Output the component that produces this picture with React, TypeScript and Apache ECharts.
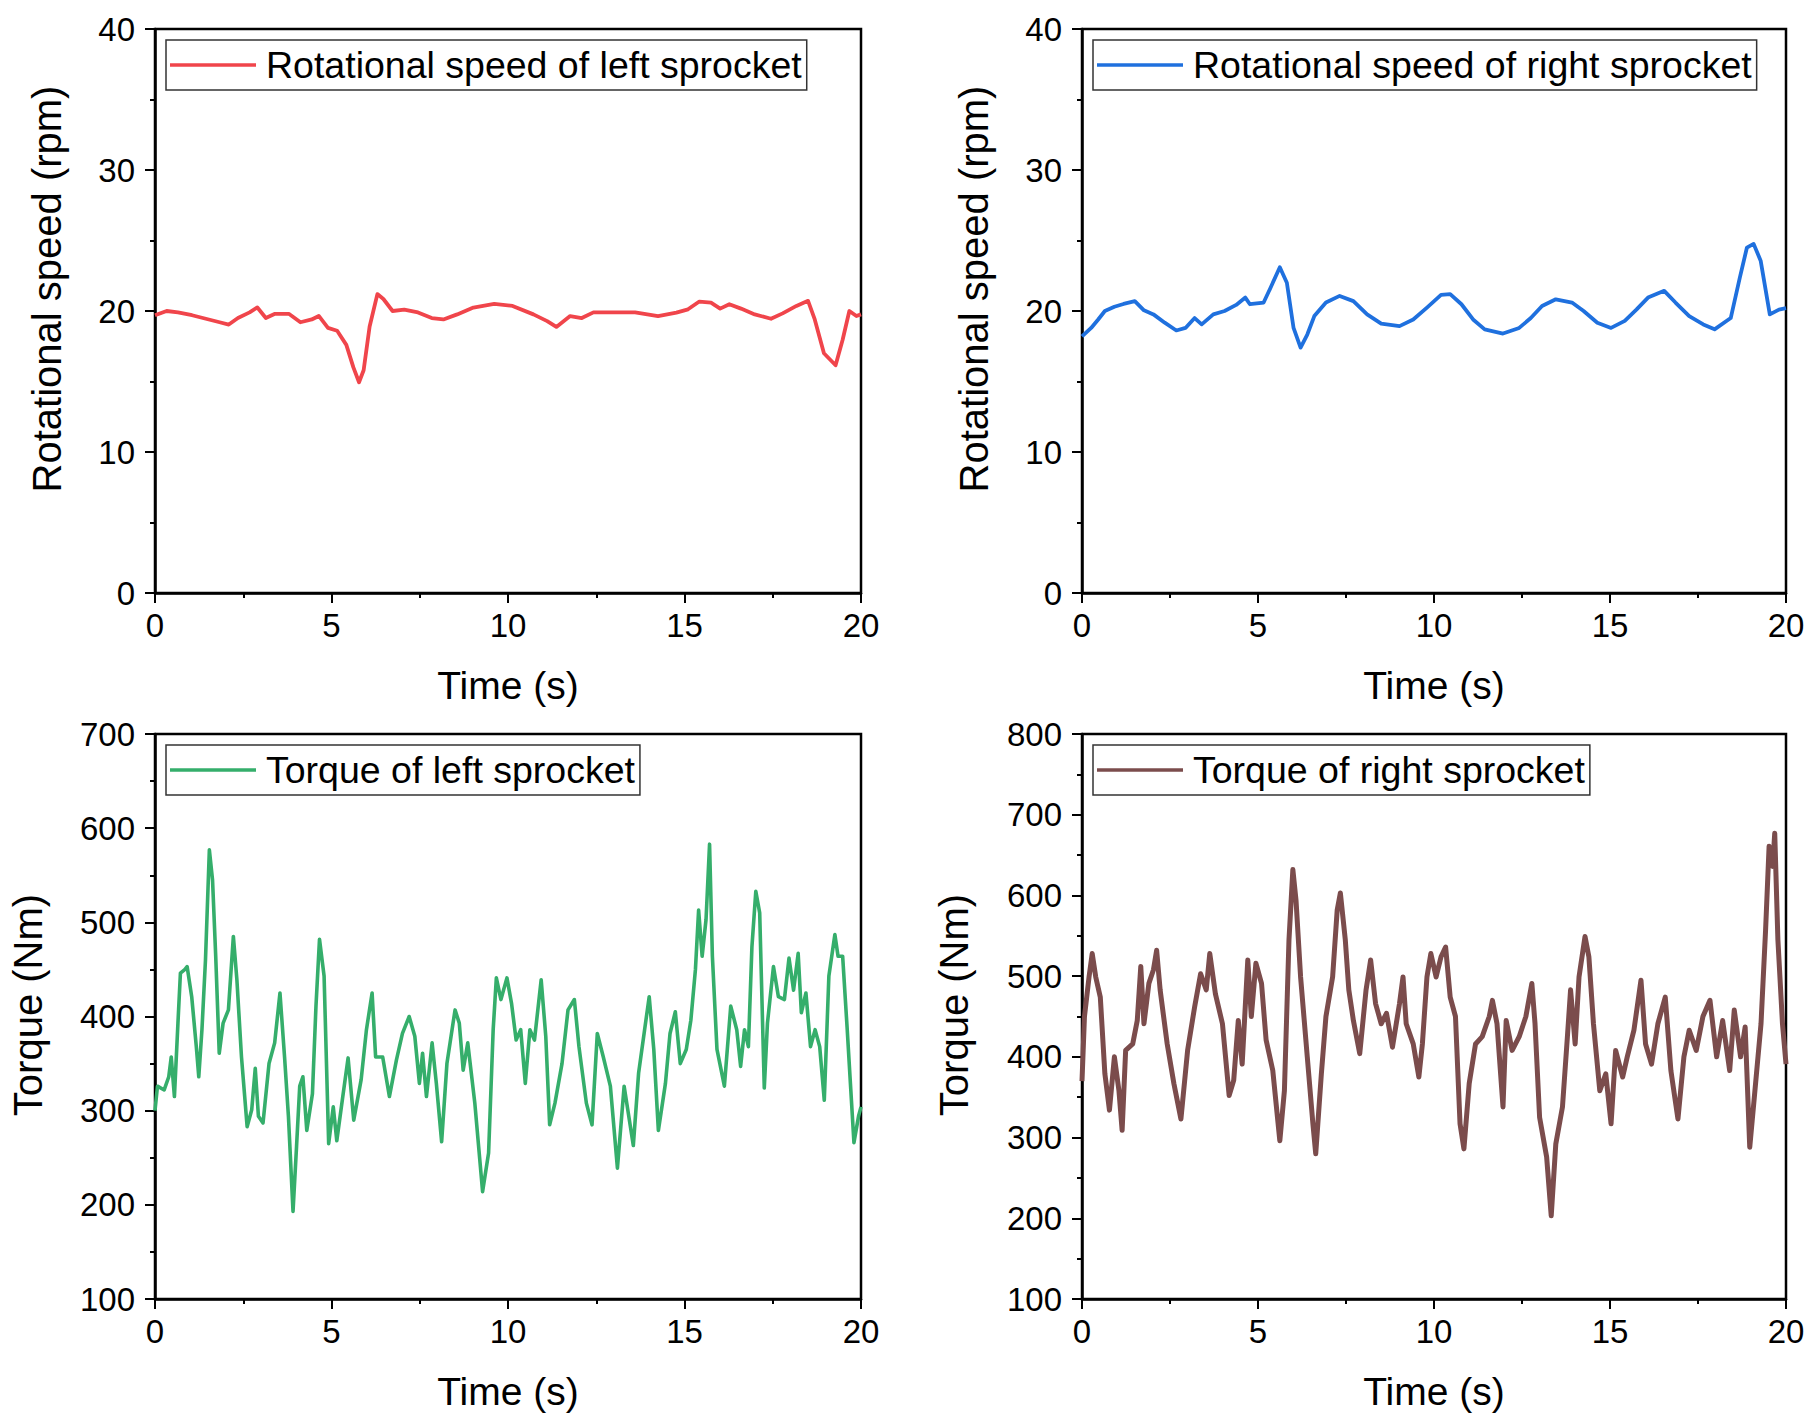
import React, { useEffect, useRef } from "react";
import * as echarts from "echarts";

const FONT = "Arial, 'Liberation Sans', Helvetica, sans-serif";

const xTicks = [0, 5, 10, 15, 20];

const leftSpeed: number[][] = [
  [0, 19.7], [0.33, 20.0], [0.65, 19.9], [1.05, 19.7], [1.44, 19.45], [1.83, 19.2], [2.09, 19.04],
  [2.35, 19.5], [2.68, 19.9], [2.9, 20.25], [3.14, 19.5], [3.4, 19.8], [3.79, 19.8], [4.12, 19.2],
  [4.44, 19.4], [4.64, 19.65], [4.9, 18.8], [5.16, 18.6], [5.42, 17.6], [5.62, 16.0], [5.78, 14.95],
  [5.91, 15.8], [6.08, 18.9], [6.3, 21.2], [6.47, 20.85], [6.73, 20.0], [7.06, 20.1], [7.45, 19.9],
  [7.84, 19.5], [8.17, 19.4], [8.56, 19.76], [9.02, 20.24], [9.61, 20.5], [10.13, 20.36], [10.72, 19.76],
  [11.11, 19.28], [11.37, 18.87], [11.76, 19.64], [12.09, 19.5], [12.42, 19.9], [12.94, 19.9], [13.6, 19.9],
  [14.25, 19.64], [14.77, 19.88], [15.1, 20.12], [15.42, 20.67], [15.75, 20.6], [16.01, 20.17], [16.27, 20.48],
  [16.6, 20.17], [16.99, 19.76], [17.45, 19.45], [17.78, 19.83], [18.17, 20.36], [18.5, 20.72], [18.69, 19.4],
  [18.95, 17.0], [19.28, 16.15], [19.48, 17.96], [19.67, 20.0], [19.87, 19.64], [20, 19.76],
];

const rightSpeed: number[][] = [
  [0, 18.2], [0.26, 18.8], [0.46, 19.4], [0.65, 20.0], [0.92, 20.3], [1.18, 20.5], [1.5, 20.7],
  [1.76, 20.05], [2.03, 19.76], [2.35, 19.17], [2.68, 18.62], [2.94, 18.8], [3.2, 19.5], [3.4, 19.05],
  [3.73, 19.76], [4.05, 20.0], [4.38, 20.43], [4.64, 20.95], [4.77, 20.48], [5.16, 20.6], [5.36, 21.67],
  [5.62, 23.1], [5.82, 22.0], [6.01, 18.8], [6.21, 17.4], [6.4, 18.33], [6.6, 19.64], [6.93, 20.6],
  [7.32, 21.07], [7.71, 20.7], [8.1, 19.76], [8.5, 19.1], [9.02, 18.93], [9.41, 19.4], [9.8, 20.24],
  [10.2, 21.14], [10.46, 21.2], [10.78, 20.48], [11.11, 19.4], [11.44, 18.7], [11.96, 18.4], [12.42, 18.8],
  [12.75, 19.5], [13.07, 20.36], [13.46, 20.83], [13.92, 20.6], [14.25, 20.0], [14.64, 19.17], [15.03, 18.8],
  [15.42, 19.3], [15.75, 20.1], [16.08, 20.95], [16.54, 21.43], [16.86, 20.6], [17.25, 19.64], [17.65, 19.05],
  [17.97, 18.7], [18.43, 19.5], [18.69, 22.38], [18.89, 24.5], [19.08, 24.76], [19.28, 23.57], [19.54, 19.76],
  [19.8, 20.1], [20, 20.2],
];

const leftTorque: number[][] = [
  [0, 300], [0.07, 326], [0.26, 322], [0.39, 336], [0.46, 357], [0.55, 315], [0.65, 393], [0.72, 446],
  [0.85, 450], [0.91, 453], [1.04, 421], [1.17, 368], [1.24, 336], [1.33, 386], [1.43, 460], [1.54, 577],
  [1.63, 545], [1.72, 464], [1.82, 361], [1.93, 393], [2.08, 407], [2.22, 485], [2.32, 439], [2.45, 357],
  [2.61, 283], [2.74, 301], [2.84, 345], [2.93, 294], [3.06, 287], [3.23, 350], [3.39, 372], [3.54, 425],
  [3.67, 357], [3.78, 294], [3.91, 193], [4.01, 262], [4.1, 326], [4.19, 336], [4.3, 279], [4.46, 318],
  [4.56, 411], [4.66, 482], [4.79, 443], [4.92, 265], [5.05, 304], [5.15, 268], [5.32, 315], [5.47, 356],
  [5.63, 290], [5.84, 333], [5.99, 386], [6.15, 425], [6.25, 357], [6.45, 357], [6.64, 315], [6.84, 354],
  [7.01, 382], [7.2, 400], [7.36, 379], [7.49, 329], [7.58, 361], [7.69, 315], [7.85, 372], [7.97, 329],
  [8.12, 267], [8.27, 350], [8.5, 407], [8.62, 393], [8.73, 343], [8.86, 372], [9.06, 308], [9.28, 214],
  [9.45, 255], [9.58, 386], [9.67, 441], [9.8, 418], [9.97, 441], [10.1, 414], [10.23, 375], [10.36, 386],
  [10.49, 329], [10.62, 386], [10.75, 375], [10.94, 439], [11.07, 379], [11.18, 285], [11.33, 308],
  [11.53, 350], [11.7, 407], [11.88, 418], [12.01, 368], [12.22, 308], [12.38, 285], [12.53, 382],
  [12.7, 357], [12.9, 326], [13.1, 239], [13.29, 326], [13.55, 263], [13.7, 340], [13.87, 386], [14.0, 421],
  [14.13, 365], [14.26, 279], [14.46, 329], [14.59, 382], [14.74, 405], [14.88, 350], [15.05, 365],
  [15.18, 396], [15.31, 450], [15.4, 513], [15.5, 464], [15.61, 503], [15.71, 583], [15.79, 464],
  [15.92, 365], [16.13, 326], [16.31, 411], [16.48, 386], [16.59, 347], [16.7, 386], [16.81, 368],
  [16.91, 474], [17.02, 533], [17.13, 510], [17.26, 324], [17.35, 393], [17.52, 453], [17.66, 421],
  [17.83, 418], [17.96, 462], [18.09, 428], [18.22, 467], [18.31, 404], [18.44, 425], [18.57, 368],
  [18.7, 386], [18.83, 368], [18.96, 311], [19.09, 443], [19.26, 487], [19.35, 464], [19.48, 464],
  [19.61, 386], [19.7, 329], [19.8, 266], [19.93, 294], [20, 304],
];

const rightTorque: number[][] = [
  [0, 370], [0.07, 450], [0.2, 499], [0.29, 528], [0.39, 499], [0.52, 474], [0.65, 379], [0.78, 334],
  [0.92, 400], [1.05, 358], [1.14, 309], [1.24, 408], [1.44, 416], [1.57, 445], [1.67, 512], [1.76, 441],
  [1.9, 491], [2.03, 508], [2.12, 532], [2.22, 483], [2.42, 416], [2.61, 367], [2.81, 323], [3.0, 408],
  [3.2, 462], [3.37, 503], [3.53, 483], [3.63, 528], [3.79, 478], [3.99, 441], [4.18, 352], [4.31, 371],
  [4.44, 445], [4.55, 391], [4.71, 520], [4.81, 450], [4.94, 516], [5.1, 491], [5.23, 421], [5.42, 383],
  [5.62, 296], [5.75, 358], [5.88, 545], [5.99, 632], [6.08, 594], [6.21, 499], [6.4, 400], [6.56, 317],
  [6.64, 280], [6.8, 379], [6.93, 450], [7.12, 499], [7.25, 582], [7.34, 603], [7.48, 545], [7.58, 483],
  [7.71, 445], [7.89, 404], [8.07, 483], [8.2, 520], [8.34, 466], [8.5, 441], [8.65, 454], [8.82, 412],
  [9.02, 466], [9.12, 499], [9.21, 441], [9.41, 416], [9.57, 375], [9.67, 416], [9.8, 499], [9.91, 528],
  [10.06, 499], [10.2, 524], [10.33, 536], [10.46, 474], [10.61, 450], [10.74, 317], [10.85, 286],
  [11.0, 367], [11.18, 416], [11.37, 425], [11.57, 450], [11.66, 470], [11.79, 441], [11.96, 338],
  [12.05, 445], [12.22, 408], [12.42, 425], [12.61, 450], [12.78, 491], [12.87, 441], [13.0, 325],
  [13.2, 276], [13.33, 203], [13.46, 292], [13.65, 338], [13.79, 425], [13.88, 483], [14.01, 416],
  [14.12, 499], [14.29, 549], [14.4, 524], [14.53, 441], [14.71, 358], [14.88, 379], [15.03, 317],
  [15.16, 408], [15.36, 375], [15.49, 400], [15.68, 433], [15.88, 495], [16.01, 416], [16.18, 391],
  [16.36, 441], [16.57, 474], [16.73, 383], [16.93, 323], [17.1, 400], [17.25, 433], [17.45, 408],
  [17.64, 450], [17.84, 470], [18.03, 400], [18.2, 445], [18.4, 383], [18.53, 458], [18.71, 400],
  [18.84, 437], [18.97, 288], [19.1, 350], [19.29, 441], [19.42, 557], [19.52, 661], [19.62, 636],
  [19.68, 677], [19.77, 545], [19.9, 441], [20, 391],
];

const seriesNames = [
  "Rotational speed of left sprocket",
  "Rotational speed of right sprocket",
  "Torque of left sprocket",
  "Torque of right sprocket",
];
const seriesColors = ["#f0454b", "#1f70de", "#35ae6b", "#7b4c4c"];
const seriesWidths = [3.8, 3.8, 3.6, 5];
const seriesData = [leftSpeed, rightSpeed, leftTorque, rightTorque];
const yRanges = [
  { min: 0, max: 40, interval: 10 },
  { min: 0, max: 40, interval: 10 },
  { min: 100, max: 700, interval: 100 },
  { min: 100, max: 800, interval: 100 },
];
const yTitles = ["Rotational speed (rpm)", "Rotational speed (rpm)", "Torque (Nm)", "Torque (Nm)"];

const grids = [
  { left: 155, top: 29, width: 706, height: 564 },
  { left: 1082, top: 29, width: 704, height: 564 },
  { left: 155, top: 734, width: 706, height: 565 },
  { left: 1082, top: 734, width: 704, height: 565 },
];
const yTitlePos = [
  [47, 289],
  [974, 289],
  [28, 1005],
  [954, 1005],
];

export default function App() {
  const ref = useRef<HTMLDivElement>(null);
  useEffect(() => {
    if (!ref.current) return;
    const chart = echarts.init(ref.current, undefined, { renderer: "svg" });
    const axisCommon = {
      axisLine: { show: true, onZero: false, lineStyle: { color: "#000", width: 2.5 } },
      axisTick: { show: true, length: 10, lineStyle: { color: "#000", width: 2 } },
      minorTick: { show: true, splitNumber: 2, length: 5, lineStyle: { color: "#000", width: 2 } },
      splitLine: { show: false },
      minorSplitLine: { show: false },
    };
    const option: any = {
      animation: false,
      backgroundColor: "#fff",
      grid: grids.map((g) => ({
        ...g,
        show: true,
        borderColor: "#000",
        borderWidth: 2.5,
        backgroundColor: "transparent",
        containLabel: false,
      })),
      xAxis: grids.map((_, i) => ({
        type: "value",
        gridIndex: i,
        min: xTicks[0],
        max: xTicks[xTicks.length - 1],
        interval: xTicks[1] - xTicks[0],
        name: "Time (s)",
        nameLocation: "middle",
        nameGap: 73,
        nameTextStyle: { fontSize: 39, fontFamily: FONT, color: "#000" },
        axisLabel: { fontSize: 33, fontFamily: FONT, color: "#000", margin: 16 },
        ...axisCommon,
      })),
      yAxis: grids.map((_, i) => ({
        type: "value",
        gridIndex: i,
        min: yRanges[i].min,
        max: yRanges[i].max,
        interval: yRanges[i].interval,
        axisLabel: { fontSize: 33, fontFamily: FONT, color: "#000", margin: 20 },
        ...axisCommon,
      })),
      legend: grids.map((g, i) => ({
        data: [seriesNames[i]],
        left: g.left + 11,
        top: g.top + 11,
        icon: "rect",
        itemWidth: 86,
        itemHeight: 3.5,
        borderColor: "#333",
        borderWidth: 1.5,
        padding: [6, 5, 6, 4],
        selectedMode: false,
        textStyle: { fontSize: 37.5, fontFamily: FONT, color: "#000", lineHeight: 38, padding: [0, 0, 0, 5] },
      })),
      series: seriesData.map((d, i) => ({
        type: "line",
        name: seriesNames[i],
        xAxisIndex: i,
        yAxisIndex: i,
        data: d,
        showSymbol: false,
        symbol: "none",
        lineStyle: { color: seriesColors[i], width: seriesWidths[i], join: "round" },
        itemStyle: { color: seriesColors[i] },
      })),
      graphic: yTitles.map((t, i) => ({
        type: "text",
        x: yTitlePos[i][0],
        y: yTitlePos[i][1],
        rotation: Math.PI / 2,
        style: {
          text: t,
          fontSize: 40,
          fontFamily: FONT,
          fill: "#000",
          align: "center",
          verticalAlign: "middle",
        },
      })),
    };
    chart.setOption(option);
    return () => chart.dispose();
  }, []);
  return (
    <div
      ref={ref}
      style={{ position: "absolute", left: 0, top: 0, width: 1814, height: 1424, background: "#fff" }}
    />
  );
}
